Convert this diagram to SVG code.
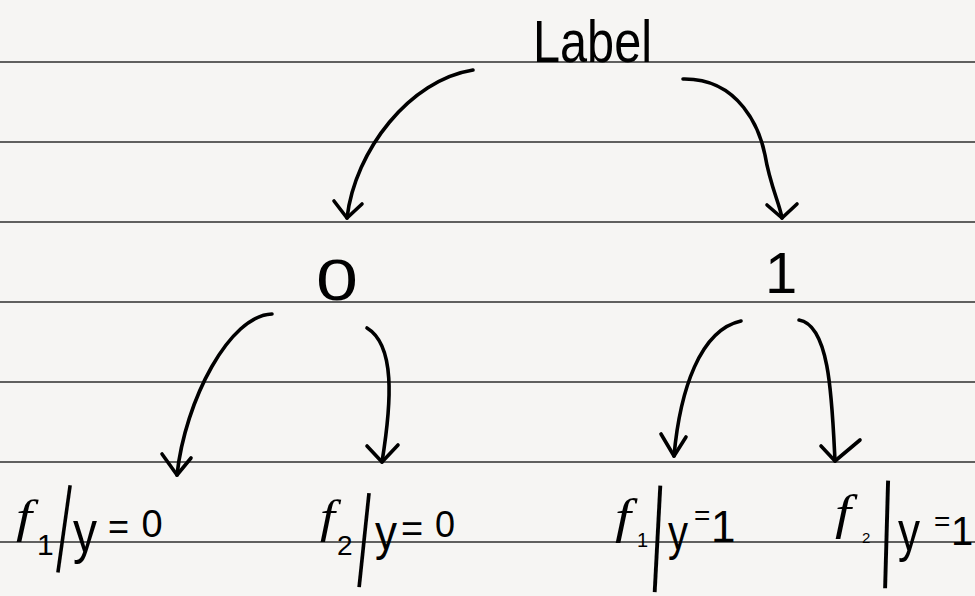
<svg xmlns="http://www.w3.org/2000/svg" width="975" height="596" viewBox="0 0 975 596">
<style>
.rule{stroke:#2e2e2e;stroke-width:1.4}
.ink{fill:none;stroke:#000;stroke-width:3.6;stroke-linecap:round;stroke-linejoin:round}
text{font-family:"Liberation Sans",Arial,sans-serif;fill:#000}
.fn{font-family:"Liberation Serif","Times New Roman",serif;font-style:italic}
.bar{text-anchor:middle}
</style>
<rect width="975" height="596" fill="#f6f5f3"/>
<g id="rules">
<line class="rule" x1="0" y1="62" x2="975" y2="62"/>
<line class="rule" x1="0" y1="142" x2="975" y2="142"/>
<line class="rule" x1="0" y1="222" x2="975" y2="222"/>
<line class="rule" x1="0" y1="302" x2="975" y2="302"/>
<line class="rule" x1="0" y1="382" x2="975" y2="382"/>
<line class="rule" x1="0" y1="462" x2="975" y2="462"/>
<line class="rule" x1="0" y1="542" x2="975" y2="542"/>
</g>
<g id="connectors">
<path class="ink" d="M473,70 C410,80 355,150 347,218"/><path class="ink" d="M334,201 L347,218 L362,204"/>
<path class="ink" d="M683,79 C740,78 760,130 765,155 C770,185 780,205 782,218"/><path class="ink" d="M767,205 L782,218 L797,204"/>
<path class="ink" d="M272,314 C230,315 185,400 177,475"/><path class="ink" d="M162,454 L177,475 L191,458"/>
<path class="ink" d="M367,328 C395,345 392,400 382,462"/><path class="ink" d="M367,446 L382,462 L398,445"/>
<path class="ink" d="M741,321 C700,330 680,390 674,456"/><path class="ink" d="M661,434 L674,456 L686,437"/>
<path class="ink" d="M799,320 C830,325 832,400 835,461"/><path class="ink" d="M821,446 L835,461 L860,440"/>
</g>
<g id="node-label"><text x="533" y="62" font-size="60" textLength="119" lengthAdjust="spacingAndGlyphs">Label</text></g>
<g id="node-0"><text x="316" y="300" font-size="58" textLength="42" lengthAdjust="spacingAndGlyphs">0</text></g>
<g id="node-1"><text x="765" y="293" font-size="58">1</text></g>
<g id="leaf-f1-y0">
<text><tspan class="fn" x="16" y="532" font-size="46" textLength="16" lengthAdjust="spacingAndGlyphs">f</tspan><tspan x="37" y="555" font-size="30">1</tspan></text>
<text class="bar" font-size="94" transform="translate(64,529) rotate(8) scale(0.47,1)" x="0" y="24">|</text>
<text><tspan x="73" y="552" font-size="60" textLength="24" lengthAdjust="spacingAndGlyphs">y</tspan><tspan x="108" y="539" font-size="36">=</tspan><tspan x="141.5" y="537" font-size="38">0</tspan></text>
</g>
<g id="leaf-f2-y0">
<text><tspan class="fn" x="320" y="532" font-size="46" textLength="15" lengthAdjust="spacingAndGlyphs">f</tspan><tspan x="337" y="555" font-size="28">2</tspan></text>
<text class="bar" font-size="101" transform="translate(364,540) rotate(6) scale(0.45,1)" x="0" y="26">|</text>
<text><tspan x="375" y="550" font-size="50" textLength="22" lengthAdjust="spacingAndGlyphs">y</tspan><tspan x="401" y="542" font-size="38">=</tspan><tspan x="435" y="537" font-size="36">0</tspan></text>
</g>
<g id="leaf-f1-y1">
<text><tspan class="fn" x="615" y="533" font-size="48" textLength="16" lengthAdjust="spacingAndGlyphs">f</tspan><tspan x="637" y="547" font-size="20">1</tspan></text>
<text class="bar" font-size="114" transform="translate(657.5,538) rotate(3) scale(0.42,1)" x="0" y="30">|</text>
<text><tspan x="668" y="550" font-size="50" textLength="20" lengthAdjust="spacingAndGlyphs">y</tspan><tspan x="694" y="525" font-size="28">=</tspan><tspan x="711" y="542" font-size="44">1</tspan></text>
</g>
<g id="leaf-f2-y1">
<text><tspan class="fn" x="835" y="529" font-size="48" textLength="16" lengthAdjust="spacingAndGlyphs">f</tspan><tspan x="862" y="543" font-size="15">2</tspan></text>
<text class="bar" font-size="115" transform="translate(886.5,534) rotate(1.6) scale(0.42,1)" x="0" y="30">|</text>
<text><tspan x="898" y="550" font-size="56" textLength="22" lengthAdjust="spacingAndGlyphs">y</tspan><tspan x="934" y="531" font-size="28">=</tspan><tspan x="951" y="545" font-size="40">1</tspan></text>
</g>
</svg>
